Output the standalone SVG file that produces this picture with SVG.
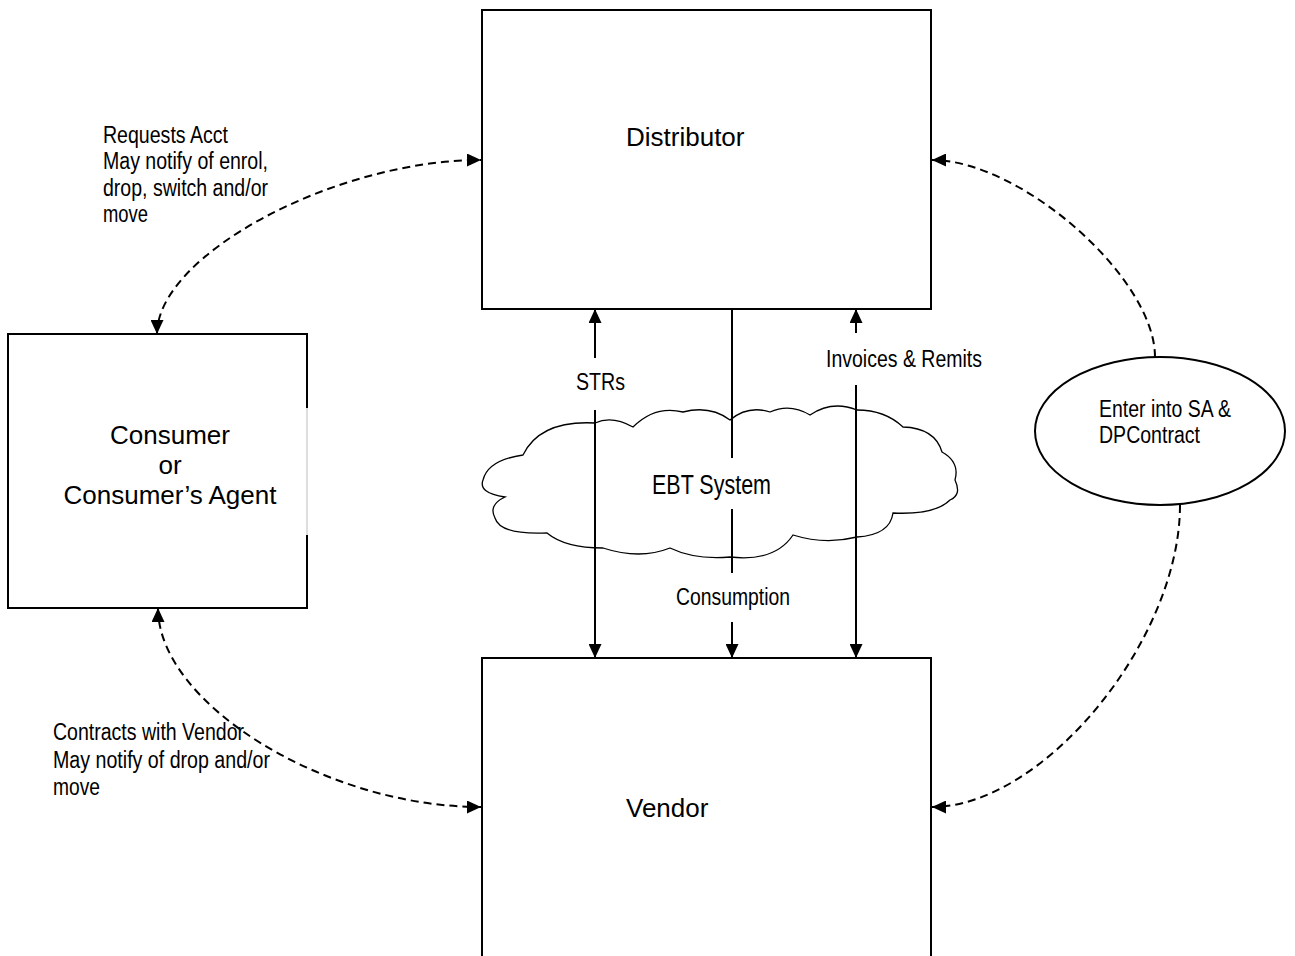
<svg xmlns="http://www.w3.org/2000/svg" width="1295" height="956" viewBox="0 0 1295 956">
<style>
.box{fill:none;stroke:#000;stroke-width:2}
.big{font-family:"Liberation Sans",Arial,sans-serif;font-size:26px;fill:#000}
.lbl{font-family:"Liberation Sans",Arial,sans-serif;font-size:23.5px;fill:#000}
.sm{font-family:"Liberation Sans",Arial,sans-serif;font-size:23px;fill:#000}
.solid{fill:none;stroke:#000;stroke-width:2}
.dash{fill:none;stroke:#000;stroke-width:2;stroke-dasharray:8 5}
</style>
<defs>
<marker id="arr" viewBox="0 0 14 13" refX="14" refY="6.5" markerWidth="14" markerHeight="13" markerUnits="userSpaceOnUse" orient="auto-start-reverse">
<path d="M0,0 L14,6.5 L0,13 Z" fill="#000"/>
</marker>
</defs>
<rect width="1295" height="956" fill="#fff"/>

<g id="distributor">
<rect class="box" x="482" y="10" width="449" height="299"/>
<text class="big" x="626" y="146">Distributor</text>
</g>

<g id="vendor">
<path class="box" d="M482,970 V658 H931 V970"/>
<text class="big" x="626" y="817">Vendor</text>
</g>

<g id="consumer">
<path class="box" d="M307,408 V334 H8 V608 H307 V535"/>
<line x1="307" y1="408" x2="307" y2="535" stroke="#bbb" stroke-width="1"/>
<text class="big" text-anchor="middle" x="170" y="444">Consumer</text>
<text class="big" text-anchor="middle" x="170" y="474">or</text>
<text class="big" text-anchor="middle" x="170" y="504">Consumer’s Agent</text>
</g>

<g id="ebt-system">
<path d="M523,455 Q540,420 595,423 Q612,415 633,427 Q655,405 683,412 Q710,405 730,420 Q748,405 770,412 Q790,403 810,415 Q832,400 857,410 Q885,410 903,427 Q935,428 942,452 Q960,462 955,480 Q962,495 950,500 Q935,515 893,513 Q890,535 857,537 Q825,545 793,535 Q775,562 730,557 Q695,560 670,548 Q640,560 603,548 Q565,548 547,533 Q500,535 495,518 Q488,505 505,497 Q478,493 483,480 Q488,460 523,455 Z" fill="#fff" stroke="#000" stroke-width="1.3"/>
</g>

<g id="sa-contract">
<ellipse cx="1160" cy="431" rx="125" ry="74" fill="#fff" stroke="#000" stroke-width="2"/>
<text class="lbl" x="1099" y="417" textLength="132" lengthAdjust="spacingAndGlyphs">Enter into SA &amp;</text>
<text class="lbl" x="1099" y="443" textLength="101" lengthAdjust="spacingAndGlyphs">DPContract</text>
</g>

<g id="connectors">
<path class="solid" d="M595,358 V309" marker-end="url(#arr)"/>
<path class="solid" d="M595,410 V658" marker-end="url(#arr)"/>
<path class="solid" d="M732,309 V458"/>
<path class="solid" d="M732,509 V573"/>
<path class="solid" d="M732,622 V658" marker-end="url(#arr)"/>
<path class="solid" d="M856,333 V309" marker-end="url(#arr)"/>
<path class="solid" d="M856,385 V658" marker-end="url(#arr)"/>

<path class="dash" d="M157,334 C157,255 335,160 481,160" marker-start="url(#arr)" marker-end="url(#arr)"/>
<path class="dash" d="M158,608 C158,704 326,807 481,807" marker-start="url(#arr)" marker-end="url(#arr)"/>
<path class="dash" d="M1155,357 C1155,278 1021,160 932,160" marker-end="url(#arr)"/>
<path class="dash" d="M1180,505 C1180,641 1043,807 932,807" marker-end="url(#arr)"/>

<text class="lbl" x="576" y="390" font-size="22.5" textLength="49" lengthAdjust="spacingAndGlyphs">STRs</text>
<text class="lbl" x="826" y="367" textLength="156" lengthAdjust="spacingAndGlyphs">Invoices &amp; Remits</text>
<text class="lbl" x="652" y="494" style="font-size:27px" textLength="119" lengthAdjust="spacingAndGlyphs">EBT System</text>
<text class="lbl" x="676" y="605" textLength="114" lengthAdjust="spacingAndGlyphs">Consumption</text>

<text class="sm" x="103" y="143" textLength="125" lengthAdjust="spacingAndGlyphs">Requests Acct</text>
<text class="sm" x="103" y="169" textLength="165" lengthAdjust="spacingAndGlyphs">May notify of enrol,</text>
<text class="sm" x="103" y="195.5" textLength="165" lengthAdjust="spacingAndGlyphs">drop, switch and/or</text>
<text class="sm" x="103" y="222" textLength="45" lengthAdjust="spacingAndGlyphs">move</text>

<text class="lbl" x="53" y="740" textLength="191" lengthAdjust="spacingAndGlyphs">Contracts with Vendor</text>
<text class="lbl" x="53" y="768" textLength="217" lengthAdjust="spacingAndGlyphs">May notify of drop and/or</text>
<text class="lbl" x="53" y="795" textLength="47" lengthAdjust="spacingAndGlyphs">move</text>
</g>
</svg>
